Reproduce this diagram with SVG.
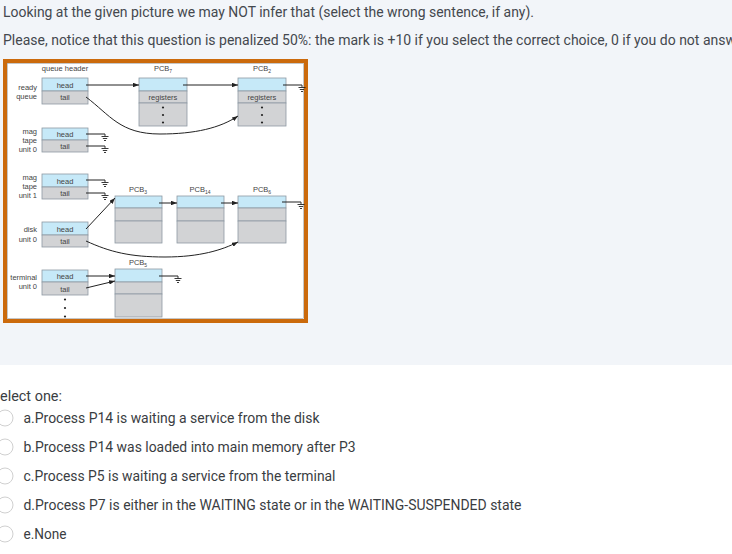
<svg xmlns="http://www.w3.org/2000/svg" width="732" height="554" viewBox="0 0 732 554">
<style>
.page{font-family:Roboto,"Liberation Sans",sans-serif;fill:#44484e}
.q{font-size:14px}
.opt{font-size:14px;fill:#3a3d42}
.lbl{font-family:"Liberation Sans",Arial,sans-serif;font-size:7.5px;fill:#444}
.hd{fill:#c6e9f8;stroke:#8e9aa3;stroke-width:0.8}
.gr{fill:#d2d3d5;stroke:#8e9aa3;stroke-width:0.8}
.ln{fill:none;stroke:#222;stroke-width:1}
.gnd{fill:none;stroke:#222;stroke-width:0.9}
.radio{fill:#fff;stroke:#d0d0d0;stroke-width:1}
.dot{fill:#222}
</style>
<defs>
<marker id="ah" viewBox="0 0 8 6" refX="8" refY="3" markerWidth="6" markerHeight="4.5" orient="auto" markerUnits="userSpaceOnUse">
<path d="M0,0 L8,3 L0,6 z" fill="#222"/>
</marker>
<path id="g" d="M0,0 V2.5 M-3.5,2.5 H3.5 M-2.2,4.5 H2.2 M-1,6.5 H1" class="gnd"/>
</defs>

<rect x="0" y="0" width="732" height="365" fill="#f2f5f9"/>
<rect x="0" y="365" width="732" height="189" fill="#ffffff"/>

<text class="page q" x="3" y="17" textLength="531" lengthAdjust="spacingAndGlyphs">Looking at the given picture we may NOT infer that (select the wrong sentence, if any).</text>
<text class="page q" x="3" y="45" textLength="733" lengthAdjust="spacingAndGlyphs">Please, notice that this question is penalized 50%: the mark is +10 if you select the correct choice, 0 if you do not answ</text>

<g id="frame">
<rect x="5" y="61" width="301" height="260" fill="#ffffff" stroke="#cb6a0c" stroke-width="4"/>
<rect x="7.5" y="63.5" width="296" height="255" fill="none" stroke="#a0a0a0" stroke-width="0.6"/>
</g>

<text class="lbl" x="65" y="71" text-anchor="middle">queue header</text>

<g id="ready-queue">
<text class="lbl" x="37" y="90" text-anchor="end">ready</text>
<text class="lbl" x="37" y="99" text-anchor="end">queue</text>
<rect class="hd" x="42" y="78" width="46" height="13"/>
<rect class="gr" x="42" y="91" width="46" height="13"/>
<text class="lbl" x="65" y="87.5" text-anchor="middle">head</text>
<text class="lbl" x="65" y="100" text-anchor="middle">tail</text>
</g>

<g id="mag-tape-0">
<text class="lbl" x="37" y="134" text-anchor="end">mag</text>
<text class="lbl" x="37" y="143" text-anchor="end">tape</text>
<text class="lbl" x="37" y="152" text-anchor="end">unit 0</text>
<rect class="hd" x="42" y="128" width="46" height="12"/>
<rect class="gr" x="42" y="140" width="46" height="12"/>
<text class="lbl" x="65" y="137" text-anchor="middle">head</text>
<text class="lbl" x="65" y="149" text-anchor="middle">tail</text>
</g>

<g id="mag-tape-1">
<text class="lbl" x="37" y="180" text-anchor="end">mag</text>
<text class="lbl" x="37" y="189" text-anchor="end">tape</text>
<text class="lbl" x="37" y="198" text-anchor="end">unit 1</text>
<rect class="hd" x="42" y="174" width="46" height="13"/>
<rect class="gr" x="42" y="187" width="46" height="12"/>
<text class="lbl" x="65" y="183.5" text-anchor="middle">head</text>
<text class="lbl" x="65" y="196" text-anchor="middle">tail</text>
</g>

<g id="disk-unit-0">
<text class="lbl" x="37" y="232" text-anchor="end">disk</text>
<text class="lbl" x="37" y="242" text-anchor="end">unit 0</text>
<rect class="hd" x="42" y="222" width="46" height="13"/>
<rect class="gr" x="42" y="235" width="46" height="12"/>
<text class="lbl" x="65" y="231.5" text-anchor="middle">head</text>
<text class="lbl" x="65" y="244" text-anchor="middle">tail</text>
</g>

<g id="terminal-unit-0">
<text class="lbl" x="37" y="280" text-anchor="end">terminal</text>
<text class="lbl" x="37" y="289" text-anchor="end">unit 0</text>
<rect class="hd" x="42" y="270" width="46" height="12"/>
<rect class="gr" x="42" y="282" width="46" height="13"/>
<text class="lbl" x="65" y="279" text-anchor="middle">head</text>
<text class="lbl" x="65" y="291.5" text-anchor="middle">tail</text>
<circle class="dot" cx="65" cy="299.5" r="1.1"/>
<circle class="dot" cx="65" cy="308" r="1.1"/>
<circle class="dot" cx="65" cy="316.5" r="1.1"/>
</g>

<g id="pcb7">
<text class="lbl" x="163" y="71" text-anchor="middle">PCB<tspan font-size="5" dy="2">7</tspan></text>
<rect class="hd" x="139" y="78" width="48" height="13"/>
<rect class="gr" x="139" y="91" width="48" height="12"/>
<rect class="gr" x="139" y="103" width="48" height="23"/>
<text class="lbl" x="163" y="100" text-anchor="middle">registers</text>
<circle class="dot" cx="163" cy="107.5" r="1.1"/>
<circle class="dot" cx="163" cy="115" r="1.1"/>
<circle class="dot" cx="163" cy="122.5" r="1.1"/>
</g>

<g id="pcb2">
<text class="lbl" x="262" y="71" text-anchor="middle">PCB<tspan font-size="5" dy="2">2</tspan></text>
<rect class="hd" x="238" y="78" width="48" height="13"/>
<rect class="gr" x="238" y="91" width="48" height="12"/>
<rect class="gr" x="238" y="103" width="48" height="23"/>
<text class="lbl" x="262" y="100" text-anchor="middle">registers</text>
<circle class="dot" cx="262" cy="107.5" r="1.1"/>
<circle class="dot" cx="262" cy="115" r="1.1"/>
<circle class="dot" cx="262" cy="122.5" r="1.1"/>
</g>

<g id="pcb3">
<text class="lbl" x="138" y="192" text-anchor="middle">PCB<tspan font-size="5" dy="2">3</tspan></text>
<rect class="hd" x="115" y="196" width="47" height="12"/>
<rect class="gr" x="115" y="208" width="47" height="13"/>
<rect class="gr" x="115" y="221" width="47" height="22"/>
</g>

<g id="pcb14">
<text class="lbl" x="200" y="192" text-anchor="middle">PCB<tspan font-size="5" dy="2">14</tspan></text>
<rect class="hd" x="177" y="196" width="47" height="12"/>
<rect class="gr" x="177" y="208" width="47" height="13"/>
<rect class="gr" x="177" y="221" width="47" height="22"/>
</g>

<g id="pcb6">
<text class="lbl" x="262" y="192" text-anchor="middle">PCB<tspan font-size="5" dy="2">6</tspan></text>
<rect class="hd" x="238" y="196" width="48" height="12"/>
<rect class="gr" x="238" y="208" width="48" height="13"/>
<rect class="gr" x="238" y="221" width="48" height="22"/>
</g>

<g id="pcb5">
<text class="lbl" x="138" y="265" text-anchor="middle">PCB<tspan font-size="5" dy="2">5</tspan></text>
<rect class="hd" x="115" y="269" width="47" height="13"/>
<rect class="gr" x="115" y="282" width="47" height="12"/>
<rect class="gr" x="115" y="294" width="47" height="23"/>
</g>

<g id="connectors">
<path class="ln" d="M86,85 H139" marker-end="url(#ah)"/>
<path class="ln" d="M183,85 H238" marker-end="url(#ah)"/>
<path class="ln" d="M283,85 H302"/>
<use href="#g" x="302" y="85"/>
<path class="ln" d="M86,97 C110,115 120,134 160,134 C195,134 220,128 238,116" marker-end="url(#ah)"/>

<path class="ln" d="M86,134 H105"/>
<use href="#g" x="105" y="134"/>
<path class="ln" d="M86,146 H105"/>
<use href="#g" x="105" y="146"/>

<path class="ln" d="M86,180 H105"/>
<use href="#g" x="105" y="180"/>
<path class="ln" d="M86,193 H105"/>
<use href="#g" x="105" y="193"/>

<path class="ln" d="M86,229 L115,198" marker-end="url(#ah)"/>
<path class="ln" d="M86,241 C110,252 130,257 165,257 C200,257 222,250 238,242" marker-end="url(#ah)"/>

<path class="ln" d="M159,203 H177" marker-end="url(#ah)"/>
<path class="ln" d="M221,203 H238" marker-end="url(#ah)"/>
<path class="ln" d="M282,202 H301"/>
<use href="#g" x="301" y="202"/>

<path class="ln" d="M86,276 H115" marker-end="url(#ah)"/>
<path class="ln" d="M86,288 L115,281" marker-end="url(#ah)"/>
<path class="ln" d="M159,276 H178"/>
<use href="#g" x="178" y="276"/>
</g>

<text class="page opt" x="0" y="401" textLength="62" lengthAdjust="spacingAndGlyphs">elect one:</text>

<g id="options">
<circle class="radio" cx="5" cy="418" r="8"/>
<text class="page opt" x="23.5" y="423" textLength="296" lengthAdjust="spacingAndGlyphs">a.Process P14 is waiting a service from the disk</text>
<circle class="radio" cx="5" cy="447" r="8"/>
<text class="page opt" x="23.5" y="452" textLength="332" lengthAdjust="spacingAndGlyphs">b.Process P14 was loaded into main memory after P3</text>
<circle class="radio" cx="5" cy="476" r="8"/>
<text class="page opt" x="23.5" y="481" textLength="312" lengthAdjust="spacingAndGlyphs">c.Process P5 is waiting a service from the terminal</text>
<circle class="radio" cx="5" cy="505" r="8"/>
<text class="page opt" x="23.5" y="510" textLength="498" lengthAdjust="spacingAndGlyphs">d.Process P7 is either in the WAITING state or in the WAITING-SUSPENDED state</text>
<circle class="radio" cx="5" cy="534" r="8"/>
<text class="page opt" x="23.5" y="539" textLength="43" lengthAdjust="spacingAndGlyphs">e.None</text>
</g>
</svg>
